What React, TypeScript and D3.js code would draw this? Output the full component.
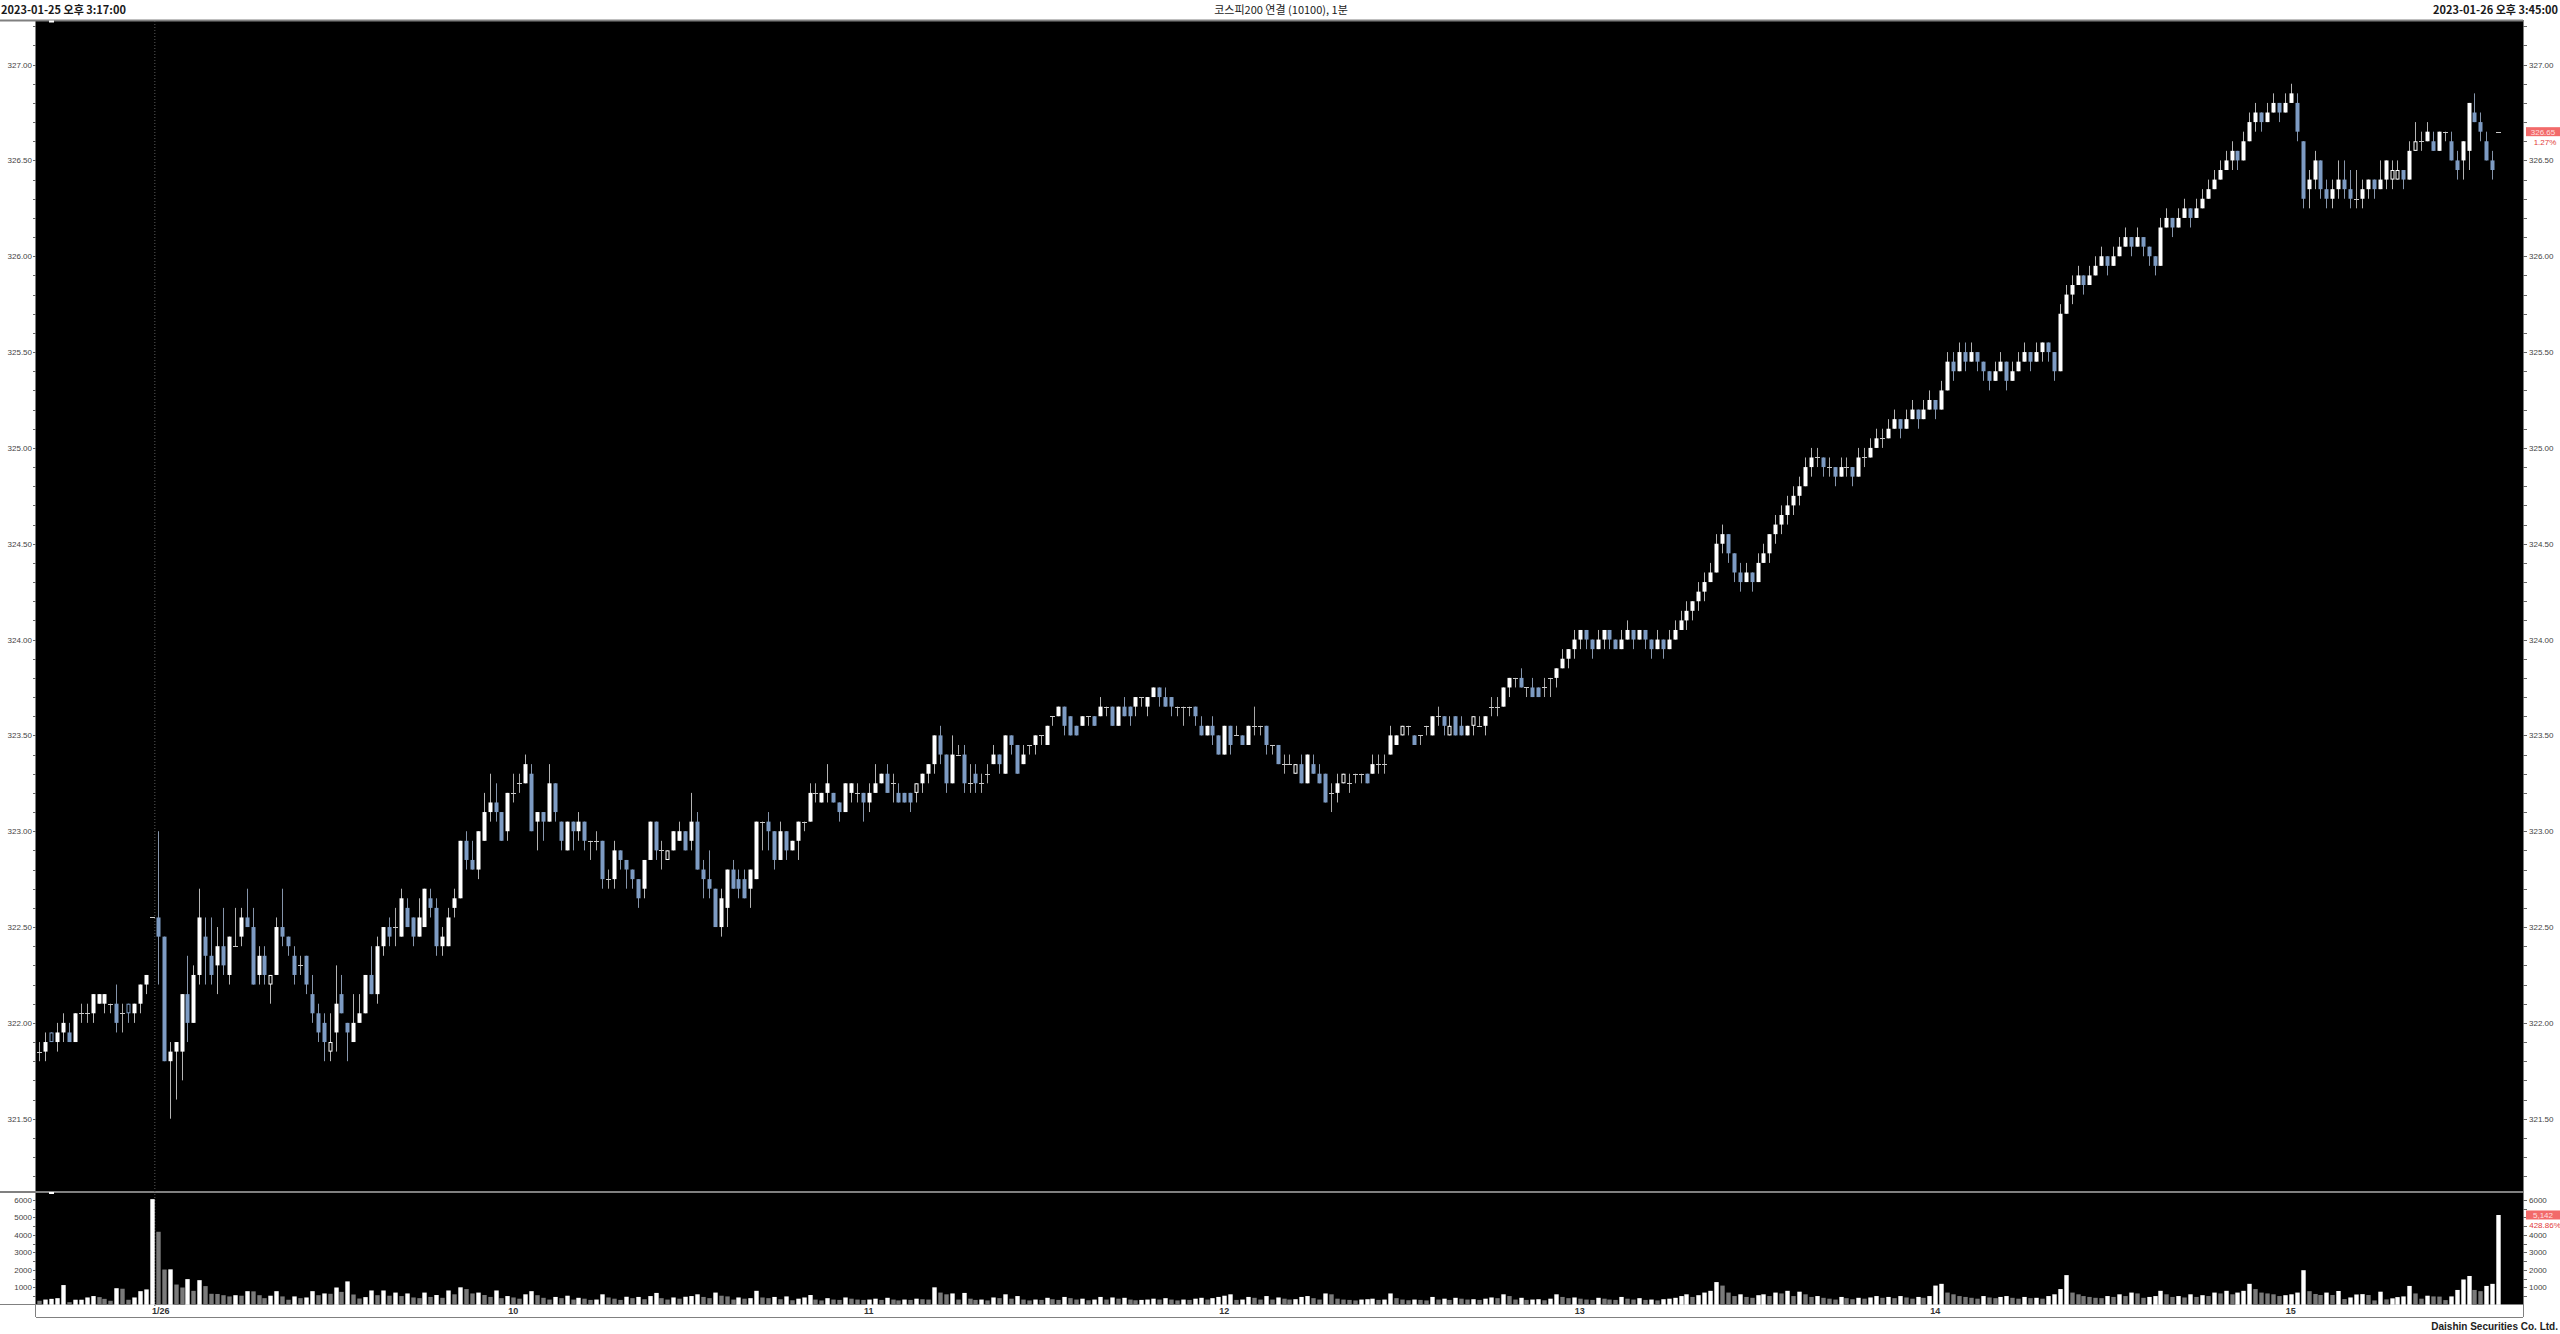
import React from "react";
import * as d3 from "d3";

type Bar = [number, number, number, number]; // open, high, low, close

// 2023-01-25 15:17 .. 15:35 + closing auction
const jan25Bars: Bar[] = [
  [321.85,321.90,321.80,321.85],[321.85,321.95,321.80,321.90],[321.95,321.95,321.90,321.90],[321.90,322.00,321.85,321.95],
  [321.95,322.05,321.90,322.00],[321.95,322.00,321.90,321.90],[321.90,322.05,321.90,322.05],[322.05,322.10,322.00,322.05],
  [322.05,322.10,322.00,322.05],[322.05,322.15,322.00,322.15],[322.10,322.15,322.10,322.15],[322.10,322.15,322.05,322.15],
  [322.10,322.10,322.05,322.10],[322.10,322.20,321.95,322.00],[322.05,322.10,321.95,322.05],[322.10,322.10,322.00,322.05],
  [322.05,322.10,322.00,322.10],[322.10,322.20,322.05,322.20],[322.20,322.25,322.15,322.25],[322.55,322.55,322.55,322.55],
];

// 2023-01-26 09:00 ..
const morningBars: Bar[] = [
  [322.55,323.00,322.20,322.45],[322.45,322.45,321.80,321.80],[321.80,321.90,321.50,321.85],[321.85,321.90,321.60,321.90],
  [321.85,322.15,321.70,322.15],[322.15,322.35,321.90,322.00],[322.00,322.30,322.00,322.25],[322.25,322.70,322.20,322.55],
  [322.45,322.55,322.20,322.35],[322.35,322.55,322.20,322.25],[322.30,322.50,322.15,322.40],[322.40,322.60,322.25,322.30],
  [322.25,322.45,322.20,322.45],[322.40,322.60,322.40,322.40],[322.45,322.60,322.40,322.55],[322.55,322.70,322.50,322.50],
  [322.50,322.60,322.20,322.20],[322.25,322.40,322.20,322.35],[322.35,322.40,322.20,322.25],[322.20,322.25,322.10,322.25],
  [322.25,322.55,322.25,322.50],[322.50,322.70,322.40,322.45],[322.45,322.45,322.35,322.40],[322.35,322.40,322.20,322.25],
  [322.30,322.35,322.25,322.30],[322.35,322.35,322.15,322.20],[322.15,322.25,322.00,322.05],[322.05,322.10,321.90,321.95],
  [322.00,322.05,321.80,321.90],[321.85,322.05,321.80,321.90],[321.95,322.30,321.85,322.10],[322.15,322.25,322.05,322.05],
  [322.00,322.00,321.80,321.95],[321.90,322.15,321.90,322.00],[322.00,322.15,322.00,322.05],[322.05,322.25,322.05,322.25],
  [322.25,322.40,322.15,322.15],[322.15,322.45,322.10,322.40],[322.40,322.50,322.35,322.50],[322.50,322.55,322.40,322.45],
  [322.50,322.60,322.40,322.50],[322.45,322.70,322.45,322.65],[322.60,322.65,322.50,322.50],[322.55,322.55,322.40,322.45],
  [322.45,322.65,322.45,322.55],[322.50,322.70,322.50,322.70],[322.65,322.70,322.55,322.60],[322.60,322.65,322.35,322.40],
  [322.40,322.50,322.35,322.45],[322.40,322.60,322.40,322.55],[322.60,322.70,322.55,322.65],[322.65,322.95,322.65,322.95],
  [322.95,323.00,322.80,322.85],[322.85,322.95,322.80,322.80],[322.80,323.00,322.75,323.00],[322.95,323.20,322.95,323.10],
  [323.10,323.30,323.05,323.15],[323.15,323.25,323.05,323.10],[323.10,323.10,322.95,322.95],[323.00,323.20,322.95,323.20],
  [323.20,323.30,323.15,323.20],[323.25,323.30,323.20,323.25],[323.25,323.40,323.25,323.35],[323.30,323.35,323.00,323.00],
  [323.05,323.10,322.90,323.10],[323.10,323.10,322.95,323.05],[323.05,323.35,323.05,323.25],[323.25,323.25,323.05,323.10],
  [323.05,323.05,322.90,322.95],[322.90,323.05,322.90,323.05],[323.05,323.05,322.90,323.00],[323.00,323.10,322.95,323.05],
  [323.05,323.05,322.90,322.95],[322.95,322.95,322.85,322.95],[322.95,323.00,322.90,322.95],[322.95,322.95,322.70,322.75],
  [322.75,322.80,322.70,322.75],[322.75,322.95,322.70,322.90],[322.90,322.90,322.80,322.85],[322.85,322.85,322.70,322.80],
  [322.80,322.80,322.70,322.75],[322.75,322.75,322.60,322.65],[322.70,322.85,322.65,322.85],[322.85,323.05,322.85,323.05],
  [323.05,323.05,322.85,322.90],[322.90,322.95,322.80,322.90],[322.85,322.90,322.85,322.90],[322.90,323.00,322.90,323.00],
  [322.95,323.05,322.95,323.00],[323.00,323.00,322.90,322.90],[322.95,323.20,322.90,323.05],[323.05,323.10,322.80,322.80],
  [322.80,322.85,322.65,322.75],[322.75,322.90,322.65,322.70],[322.70,322.70,322.50,322.50],[322.50,322.70,322.45,322.65],
  [322.60,322.80,322.50,322.80],[322.80,322.85,322.70,322.70],[322.75,322.80,322.65,322.70],[322.75,322.80,322.65,322.65],
  [322.70,322.80,322.60,322.80],[322.75,323.05,322.75,323.05],[323.05,323.05,322.90,323.05],[323.05,323.10,322.90,323.00],
  [323.00,323.00,322.80,322.85],[322.85,323.05,322.85,323.00],[323.00,323.00,322.85,322.90],[322.90,322.95,322.90,322.95],
];

const middayBars: Bar[] = [
  [322.95,323.05,322.85,323.05],[323.05,323.05,323.00,323.05],[323.05,323.25,323.05,323.20],[323.20,323.25,323.15,323.20],
  [323.15,323.20,323.15,323.20],[323.20,323.35,323.15,323.25],[323.20,323.20,323.15,323.15],[323.15,323.15,323.05,323.10],
  [323.10,323.25,323.10,323.25],[323.20,323.25,323.15,323.25],[323.20,323.25,323.15,323.20],[323.20,323.20,323.05,323.15],
  [323.15,323.25,323.10,323.20],[323.20,323.35,323.20,323.25],[323.25,323.30,323.25,323.30],[323.30,323.35,323.20,323.20],
  [323.25,323.30,323.15,323.25],[323.20,323.25,323.15,323.15],[323.20,323.20,323.15,323.15],[323.20,323.20,323.10,323.15],
  [323.20,323.25,323.15,323.25],[323.25,323.30,323.20,323.30],[323.30,323.35,323.25,323.35],[323.35,323.50,323.30,323.50],
  [323.50,323.55,323.35,323.40],[323.40,323.40,323.20,323.25],[323.25,323.50,323.25,323.40],[323.40,323.45,323.40,323.40],
  [323.40,323.45,323.20,323.25],[323.25,323.35,323.20,323.25],[323.30,323.35,323.20,323.25],[323.25,323.30,323.20,323.25],
  [323.30,323.35,323.25,323.30],[323.35,323.45,323.35,323.40],[323.40,323.40,323.30,323.35],[323.30,323.50,323.30,323.50],
  [323.50,323.50,323.40,323.45],[323.45,323.45,323.30,323.30],[323.35,323.45,323.35,323.40],[323.45,323.45,323.40,323.45],
  [323.45,323.50,323.40,323.50],[323.50,323.50,323.45,323.50],[323.45,323.55,323.45,323.55],[323.60,323.60,323.55,323.60],
  [323.60,323.65,323.60,323.65],[323.65,323.65,323.50,323.55],[323.60,323.60,323.50,323.50],[323.55,323.55,323.50,323.50],
  [323.55,323.60,323.55,323.60],[323.60,323.60,323.55,323.60],[323.60,323.60,323.55,323.55],[323.60,323.70,323.60,323.65],
  [323.65,323.65,323.60,323.65],[323.65,323.65,323.55,323.55],[323.55,323.65,323.55,323.65],[323.65,323.70,323.60,323.60],
  [323.65,323.65,323.55,323.60],[323.65,323.70,323.60,323.70],[323.70,323.70,323.65,323.70],[323.65,323.70,323.60,323.70],
  [323.70,323.75,323.70,323.75],[323.75,323.75,323.65,323.70],[323.70,323.75,323.65,323.65],[323.70,323.70,323.60,323.65],
  [323.65,323.65,323.60,323.65],[323.65,323.65,323.55,323.65],[323.65,323.65,323.60,323.65],[323.65,323.65,323.55,323.60],
  [323.55,323.60,323.50,323.50],[323.50,323.55,323.50,323.55],[323.55,323.60,323.45,323.50],[323.50,323.50,323.40,323.40],
  [323.40,323.55,323.40,323.55],[323.55,323.55,323.40,323.45],[323.50,323.55,323.50,323.50],[323.50,323.50,323.45,323.45],
  [323.45,323.55,323.45,323.55],[323.55,323.65,323.50,323.55],[323.55,323.55,323.50,323.55],[323.55,323.55,323.40,323.45],
  [323.45,323.45,323.40,323.45],[323.45,323.45,323.35,323.35],[323.35,323.40,323.30,323.35],[323.35,323.40,323.35,323.35],
  [323.30,323.35,323.30,323.35],[323.35,323.40,323.25,323.25],[323.25,323.40,323.25,323.40],[323.35,323.40,323.30,323.30],
  [323.30,323.35,323.25,323.25],[323.30,323.30,323.15,323.15],[323.20,323.25,323.10,323.20],[323.20,323.30,323.15,323.25],
  [323.25,323.30,323.25,323.30],[323.25,323.30,323.20,323.25],[323.30,323.30,323.25,323.30],[323.30,323.30,323.25,323.30],
  [323.30,323.30,323.25,323.25],[323.30,323.40,323.30,323.35],[323.35,323.40,323.30,323.35],[323.35,323.40,323.30,323.35],
  [323.40,323.55,323.40,323.50],[323.45,323.50,323.45,323.50],[323.50,323.55,323.50,323.55],[323.55,323.55,323.50,323.55],
  [323.50,323.50,323.45,323.45],[323.50,323.50,323.45,323.50],[323.55,323.55,323.50,323.55],[323.50,323.60,323.50,323.60],
  [323.60,323.65,323.55,323.60],[323.60,323.60,323.50,323.55],[323.50,323.60,323.50,323.55],[323.60,323.60,323.50,323.50],
  [323.55,323.60,323.50,323.50],[323.50,323.55,323.50,323.55],[323.55,323.60,323.50,323.60],[323.55,323.60,323.55,323.55],
  [323.55,323.60,323.50,323.60],[323.65,323.70,323.60,323.65],[323.65,323.70,323.60,323.65],[323.65,323.75,323.65,323.75],
  [323.75,323.80,323.70,323.80],[323.80,323.80,323.75,323.80],[323.80,323.85,323.75,323.75],[323.75,323.75,323.70,323.75],
  [323.75,323.80,323.70,323.70],[323.75,323.75,323.70,323.70],[323.75,323.80,323.70,323.75],[323.80,323.80,323.70,323.80],
  [323.80,323.85,323.75,323.85],
];

const afternoonBars: Bar[] = [
  [323.85,323.95,323.85,323.90],[323.90,323.95,323.85,323.95],[323.95,324.05,323.90,324.00],[324.00,324.05,323.95,324.05],
  [324.05,324.05,323.95,324.00],[324.00,324.00,323.90,323.95],[323.95,324.05,323.95,324.00],[324.00,324.05,323.95,324.05],
  [324.05,324.05,323.95,324.00],[324.00,324.00,323.95,323.95],[323.95,324.05,323.95,324.00],[324.00,324.10,324.00,324.05],
  [324.05,324.05,323.95,324.00],[324.00,324.05,324.00,324.05],[324.05,324.05,323.95,324.00],[324.00,324.00,323.90,323.95],
  [323.95,324.05,323.95,324.00],[324.00,324.00,323.90,323.95],[323.95,324.05,323.95,324.00],[324.00,324.10,324.00,324.05],
  [324.05,324.15,324.05,324.10],[324.10,324.20,324.05,324.15],[324.15,324.20,324.10,324.20],[324.20,324.30,324.15,324.25],
  [324.25,324.35,324.20,324.30],[324.30,324.40,324.30,324.35],[324.35,324.55,324.35,324.50],[324.50,324.60,324.45,324.55],
  [324.55,324.55,324.40,324.45],[324.45,324.45,324.30,324.35],[324.35,324.40,324.25,324.30],[324.30,324.40,324.30,324.35],
  [324.35,324.35,324.25,324.30],[324.30,324.45,324.30,324.40],[324.40,324.50,324.40,324.45],[324.45,324.55,324.40,324.55],
  [324.55,324.65,324.50,324.60],[324.60,324.70,324.55,324.65],[324.65,324.75,324.60,324.70],[324.70,324.80,324.65,324.75],
  [324.75,324.85,324.70,324.80],[324.80,324.95,324.80,324.90],[324.90,325.00,324.85,324.95],[324.95,325.00,324.90,324.95],
  [324.95,324.95,324.85,324.90],[324.90,324.95,324.85,324.90],[324.90,324.90,324.80,324.85],[324.85,324.95,324.85,324.90],
  [324.90,324.95,324.85,324.90],[324.90,324.90,324.80,324.85],[324.85,325.00,324.85,324.95],[324.95,325.00,324.90,324.95],
  [324.95,325.05,324.95,325.00],[325.00,325.10,325.00,325.05],[325.05,325.10,325.00,325.05],[325.05,325.15,325.05,325.10],
  [325.10,325.20,325.10,325.15],[325.15,325.15,325.05,325.10],[325.10,325.20,325.10,325.15],[325.15,325.25,325.15,325.20],
  [325.20,325.20,325.10,325.15],[325.15,325.25,325.15,325.20],[325.20,325.30,325.20,325.25],[325.25,325.25,325.15,325.20],
  [325.20,325.35,325.20,325.30],[325.30,325.50,325.30,325.45],[325.45,325.50,325.35,325.40],[325.40,325.55,325.40,325.50],
  [325.50,325.55,325.40,325.45],[325.45,325.55,325.45,325.50],[325.50,325.50,325.40,325.45],[325.45,325.45,325.35,325.40],
  [325.40,325.40,325.30,325.35],[325.35,325.45,325.35,325.40],[325.40,325.50,325.40,325.45],[325.45,325.45,325.30,325.35],
  [325.35,325.45,325.35,325.40],[325.40,325.50,325.40,325.45],[325.45,325.55,325.45,325.50],[325.50,325.50,325.40,325.45],
  [325.45,325.55,325.45,325.50],[325.50,325.55,325.45,325.55],[325.55,325.55,325.45,325.50],[325.50,325.50,325.35,325.40],
  [325.40,325.75,325.40,325.70],[325.70,325.85,325.70,325.80],[325.80,325.90,325.75,325.85],[325.85,325.95,325.85,325.90],
  [325.90,325.90,325.80,325.85],[325.85,325.95,325.85,325.90],[325.90,326.00,325.90,325.95],[325.95,326.05,325.95,326.00],
  [326.00,326.00,325.90,325.95],[325.95,326.05,325.95,326.00],[326.00,326.10,326.00,326.05],[326.05,326.15,326.05,326.10],
  [326.10,326.10,326.00,326.05],[326.05,326.15,326.05,326.10],[326.10,326.10,326.00,326.05],[326.05,326.05,325.95,326.00],
  [326.00,326.00,325.90,325.95],[325.95,326.20,325.95,326.15],[326.15,326.25,326.15,326.20],[326.20,326.20,326.10,326.15],
  [326.15,326.25,326.15,326.20],[326.20,326.30,326.20,326.25],[326.25,326.25,326.15,326.20],[326.20,326.30,326.20,326.25],
  [326.25,326.35,326.25,326.30],[326.30,326.40,326.30,326.35],[326.35,326.45,326.35,326.40],[326.40,326.50,326.40,326.45],
  [326.45,326.55,326.45,326.50],[326.50,326.60,326.45,326.55],[326.55,326.55,326.45,326.50],[326.50,326.65,326.50,326.60],
  [326.60,326.75,326.60,326.70],[326.70,326.80,326.65,326.75],[326.75,326.75,326.65,326.70],[326.70,326.80,326.70,326.75],
  [326.75,326.85,326.75,326.80],[326.80,326.80,326.70,326.75],[326.75,326.85,326.75,326.80],[326.80,326.90,326.80,326.85],
  [326.80,326.85,326.60,326.65],
];

const closingBars: Bar[] = [
  [326.60,326.60,326.25,326.30],[326.35,326.45,326.25,326.40],[326.40,326.55,326.35,326.50],[326.50,326.50,326.30,326.35],
  [326.35,326.40,326.25,326.30],[326.30,326.40,326.25,326.35],[326.35,326.50,326.30,326.40],[326.40,326.50,326.30,326.35],
  [326.35,326.45,326.25,326.30],[326.30,326.45,326.25,326.30],[326.30,326.40,326.25,326.35],[326.35,326.40,326.30,326.40],
  [326.40,326.40,326.30,326.35],[326.35,326.50,326.35,326.40],[326.40,326.50,326.35,326.50],[326.40,326.50,326.35,326.45],
  [326.40,326.50,326.40,326.45],
  [326.45,326.45,326.35,326.40],[326.40,326.60,326.40,326.55],[326.55,326.70,326.55,326.60],[326.60,326.65,326.55,326.60],
  [326.60,326.70,326.60,326.65],[326.60,326.65,326.55,326.55],[326.55,326.65,326.55,326.65],[326.65,326.65,326.60,326.65],
  [326.60,326.65,326.50,326.50],[326.50,326.55,326.40,326.45],[326.50,326.60,326.40,326.60],[326.55,326.80,326.45,326.80],
  [326.75,326.85,326.70,326.70],[326.70,326.75,326.60,326.65],[326.60,326.65,326.50,326.50],[326.50,326.55,326.40,326.45],
  [326.65,326.65,326.65,326.65],
];

const candles: Bar[] = [...jan25Bars, ...morningBars, ...middayBars, ...afternoonBars, ...closingBars];

// bars drawn as outlined (hollow) bodies in the reference
const hollowBars = [2, 15, 39, 49, 106, 148, 212, 220, 230, 238, 242, 397, 398, 401];

const jan25Volume = [230,300,340,380,1130,150,290,290,420,500,440,340,230,950,920,290,420,780,880,6050];
const morningVolume = [
  4180,2020,2030,1160,990,1470,800,1410,1070,630,620,550,480,550,520,780,770,550,380,520,
  780,480,290,480,380,420,780,550,650,630,990,740,1340,590,360,440,820,550,820,520,
  700,500,650,420,380,700,450,560,400,820,600,1000,900,650,700,560,450,820,380,500,
  420,350,600,780,550,400,300,450,380,520,300,400,350,280,300,600,420,350,280,460,
  380,450,320,500,680,380,300,420,350,460,500,600,450,380,700,520,480,300,420,350,
  380,800,420,380,450,320,480,260,
];
const middayVolume = [
  350,420,560,300,250,380,300,280,420,350,300,280,300,350,280,400,300,250,300,280,
  350,320,300,1000,700,600,650,300,680,350,280,300,250,420,380,600,350,500,300,250,
  300,280,400,320,280,450,380,300,350,260,300,450,300,420,350,400,300,260,280,300,
  350,300,380,300,250,300,280,350,400,300,380,450,520,600,280,300,450,400,300,500,
  300,420,350,300,320,450,500,380,300,650,600,350,300,280,250,300,320,350,280,300,
  650,380,300,260,300,280,250,450,300,350,280,400,350,300,320,280,350,420,380,600,
  500,300,400,280,300,320,260,350,600,
];
const afternoonVolume = [
  450,380,420,350,300,280,400,350,300,280,450,350,300,380,280,300,250,320,350,400,
  500,600,450,550,700,800,1300,1100,700,500,600,450,400,550,600,500,700,650,800,500,
  750,600,450,500,400,350,300,450,380,320,400,350,420,500,400,450,380,500,420,350,
  450,400,500,1100,1200,700,600,500,450,400,350,500,420,380,450,500,400,350,450,380,
  400,350,500,600,900,1700,700,600,500,450,400,380,500,450,600,500,700,650,400,450,
  500,800,600,450,500,420,600,450,550,500,700,650,800,600,700,800,1200,900,700,650,
  600,500,550,600,700,
];
const closingVolume = [
  1980,780,620,560,700,560,790,330,420,590,610,560,250,750,310,370,440,
  480,1080,650,350,520,480,470,270,480,850,1450,1650,850,780,1080,1199,5142,
];
const volumes = [...jan25Volume, ...morningVolume, ...middayVolume, ...afternoonVolume, ...closingVolume];

const timeTickIndex = [20, 80, 140, 200, 260, 320, 380];
const timeTickText = ["1/26", "10", "11", "12", "13", "14", "15"];
const priceTicks = [321.5, 322, 322.5, 323, 323.5, 324, 324.5, 325, 325.5, 326, 326.5, 327];
const volumeTicks = [1000, 2000, 3000, 4000, 5000, 6000];

const titleLeft = "2023-01-25 오후 3:17:00";
const titleCenter = "코스피200 연결 (10100), 1분";
const titleRight = "2023-01-26 오후 3:45:00";
const lastPrice = 326.65;
const lastPriceText = "326.65";
const lastChange = "1.27%";
const lastVolume = 5142;
const lastVolumeText = "5,142";
const lastVolumeChange = "428.86%";
const footer = "Daishin Securities Co. Ltd.";

const UP = "#ffffff";
const DOWN = "#7d9bc3";
const UP_WICK = "#b4b4b4";
const DOWN_WICK = "#8594aa";
const FRAME = "#808080";
const AXIS_FONT = "'Liberation Sans', Arial, sans-serif";

export default function App() {
  const W = 2560, H = 1334;
  const L = 36, R = 2523;
  const top = 21, sep = 1192, volBottom = 1304, axisBottom = 1317;

  const n = candles.length;
  const x = d3.scaleLinear().domain([0, n - 1]).range([39.3, 2498.2]);
  const y = d3.scaleLinear().domain([321.5, 327]).range([1118.7, 64.6]);
  const yv = d3.scaleLinear().domain([0, 6000]).range([1304.8, 1200]);

  const minorPrice = d3.range(3200, 3290, 1).map((v) => v / 10).filter((p) => y(p) > top + 3 && y(p) < sep - 3);
  const minorVol = d3.range(500, 6500, 500).filter((v) => yv(v) > sep + 3);

  const bodyW = 4;
  const divX = (x(19) + x(20)) / 2;

  // right-side labels hidden by the value tags
  const priceTagY = y(lastPrice);
  const volTagY = yv(lastVolume);
  const rightPriceTicks = priceTicks.filter((p) => Math.abs(y(p) - priceTagY) > 16 || y(p) < priceTagY - 8);
  const rightVolTicks = volumeTicks.filter((v) => !(yv(v) > volTagY - 6 && yv(v) < volTagY + 16));

  const candleEls = candles.map(([o, h, l, c], i) => {
    const cx = Math.round(x(i)) + 0.5;
    if (o === c) {
      return (
        <g key={i}>
          {h !== l && <line x1={cx} x2={cx} y1={y(h)} y2={y(l)} stroke="#a8a8a8" strokeWidth={1} />}
          <line x1={cx - 2.5} x2={cx + 2.5} y1={Math.round(y(o)) + 0.5} y2={Math.round(y(o)) + 0.5} stroke="#c8c8c8" strokeWidth={1} />
        </g>
      );
    }
    const up = c > o;
    const hollow = hollowBars.includes(i);
    const col = up ? UP : DOWN;
    const yt = y(Math.max(o, c));
    const yb = y(Math.min(o, c));
    return (
      <g key={i}>
        <line x1={cx} x2={cx} y1={y(h)} y2={y(l)} stroke={up ? UP_WICK : DOWN_WICK} strokeWidth={1} />
        {hollow ? (
          <rect x={cx - bodyW / 2 + 0.5} y={yt + 0.5} width={bodyW - 1} height={Math.max(yb - yt - 1, 1)} fill="#000" stroke={col} strokeWidth={1} />
        ) : (
          <rect x={cx - bodyW / 2} y={yt} width={bodyW} height={Math.max(yb - yt, 1)} fill={col} />
        )}
      </g>
    );
  });

  const volumeEls = volumes.map((v, i) => {
    const cx = Math.round(x(i)) + 0.5;
    const upv = i > 0 && v >= volumes[i - 1];
    return <rect key={i} x={cx - 2.2} y={yv(v)} width={4.4} height={yv(0) - yv(v)} fill={upv ? "#ffffff" : "#7a7a7a"} />;
  });

  return (
    <svg width={W} height={H} style={{ position: "absolute", left: 0, top: 0, background: "#fff" }} fontFamily={AXIS_FONT}>
      <rect x={0} y={0} width={W} height={H} fill="#ffffff" />
      {/* header */}
      <text x={1} y={14} fontSize={11} fontWeight="bold" fill="#1a1a1a" fontFamily="'Noto Sans CJK KR', sans-serif">{titleLeft}</text>
      <text x={1281} y={14} fontSize={11} fill="#1a1a1a" textAnchor="middle" fontFamily="'Noto Sans CJK KR', sans-serif">{titleCenter}</text>
      <text x={2558} y={14} fontSize={11} fontWeight="bold" fill="#1a1a1a" textAnchor="end" fontFamily="'Noto Sans CJK KR', sans-serif">{titleRight}</text>

      {/* panels */}
      <rect x={L} y={top} width={R - L} height={sep - top} fill="#000" />
      <rect x={L} y={sep} width={R - L} height={volBottom - sep} fill="#000" />
      <line x1={0} x2={R} y1={20.5} y2={20.5} stroke={FRAME} strokeWidth={2} />
      <line x1={0} x2={R} y1={sep} y2={sep} stroke={FRAME} strokeWidth={2} />
      <line x1={0} x2={R} y1={volBottom + 0.5} y2={volBottom + 0.5} stroke={FRAME} strokeWidth={1} />
      <line x1={L - 0.5} x2={L - 0.5} y1={20} y2={axisBottom} stroke={FRAME} strokeWidth={1} />
      <line x1={R + 0.5} x2={R + 0.5} y1={20} y2={axisBottom} stroke={FRAME} strokeWidth={1} />
      <line x1={L} x2={R} y1={axisBottom + 0.5} y2={axisBottom + 0.5} stroke={FRAME} strokeWidth={1} />

      {/* date divider */}
      <line x1={divX} x2={divX} y1={top} y2={volBottom + 4} stroke="#5a5a5a" strokeWidth={1} strokeDasharray="1,2" />

      {/* panel handles */}
      <rect x={49} y={20.5} width={5} height={2} fill="#fff" />
      <rect x={49} y={sep} width={5} height={2} fill="#fff" />

      {/* price axis */}
      {minorPrice.map((p) => (
        <g key={"mp" + p}>
          <line x1={L - 3} x2={L} y1={Math.round(y(p)) + 0.5} y2={Math.round(y(p)) + 0.5} stroke="#666" />
          <line x1={R} x2={R + 4} y1={Math.round(y(p)) + 0.5} y2={Math.round(y(p)) + 0.5} stroke="#666" />
        </g>
      ))}
      {priceTicks.map((p) => (
        <text key={"ptl" + p} x={L - 4} y={y(p) + 3} fontSize={8} fill="#444" textAnchor="end">{p.toFixed(2)}</text>
      ))}
      {rightPriceTicks.map((p) => (
        <text key={"ptr" + p} x={R + 6} y={y(p) + 3} fontSize={8} fill="#444">{p.toFixed(2)}</text>
      ))}

      {/* volume axis */}
      {minorVol.map((v) => (
        <g key={"mv" + v}>
          <line x1={L - 3} x2={L} y1={Math.round(yv(v)) + 0.5} y2={Math.round(yv(v)) + 0.5} stroke="#666" />
          <line x1={R} x2={R + 4} y1={Math.round(yv(v)) + 0.5} y2={Math.round(yv(v)) + 0.5} stroke="#666" />
        </g>
      ))}
      {volumeTicks.map((v) => (
        <text key={"vtl" + v} x={L - 4} y={yv(v) + 3} fontSize={8} fill="#444" textAnchor="end">{v}</text>
      ))}
      {rightVolTicks.map((v) => (
        <text key={"vtr" + v} x={R + 6} y={yv(v) + 3} fontSize={8} fill="#444">{v}</text>
      ))}

      {/* marks */}
      <g>{volumeEls}</g>
      <g>{candleEls}</g>

      {/* current value tags */}
      <rect x={2526} y={priceTagY - 4.5} width={34} height={9} fill="#f26a6a" />
      <text x={2543} y={priceTagY + 3} fontSize={8} fill="#ffe0e0" textAnchor="middle">{lastPriceText}</text>
      <text x={2545} y={priceTagY + 13} fontSize={8} fill="#e23b3b" textAnchor="middle">{lastChange}</text>
      <rect x={2526} y={volTagY - 4.5} width={34} height={9} fill="#f26a6a" />
      <text x={2543} y={volTagY + 3} fontSize={8} fill="#ffe0e0" textAnchor="middle">{lastVolumeText}</text>
      <text x={2545} y={volTagY + 13} fontSize={8} fill="#e23b3b" textAnchor="middle">{lastVolumeChange}</text>

      {/* time axis */}
      {timeTickIndex.map((t, k) => (
        <text key={"tt" + t} x={x(t) + (k === 0 ? 3 : 0)} y={1314} fontSize={9} fill="#333" textAnchor="middle" fontWeight="bold">{timeTickText[k]}</text>
      ))}

      <text x={2558} y={1330} fontSize={10} fontWeight="bold" fill="#222" textAnchor="end">{footer}</text>
    </svg>
  );
}
